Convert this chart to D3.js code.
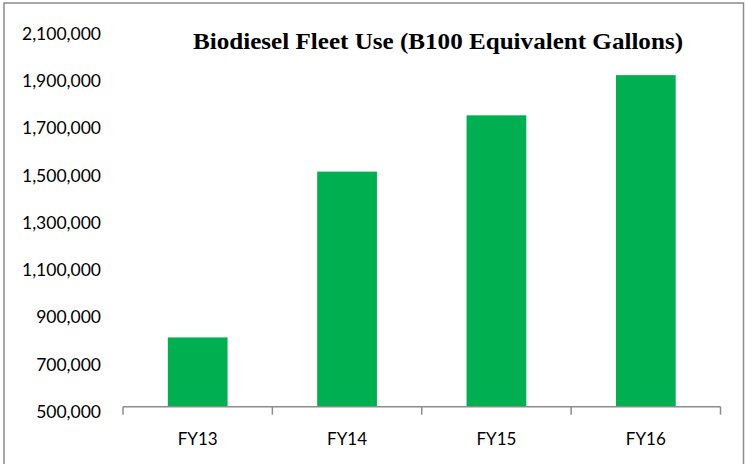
<!DOCTYPE html>
<html>
<head>
<meta charset="utf-8">
<script src="https://cdn.jsdelivr.net/npm/d3@7"></script>
<style>
  body { margin: 0; background: #fff; }
  svg { display: block; }
</style>
</head>
<body>
<svg id="chart"></svg>
<script>
const categories = ['FY13', 'FY14', 'FY15', 'FY16'];
const gallons = [793000, 1494000, 1732000, 1902000];
const yTickValues = [500000, 700000, 900000, 1100000, 1300000, 1500000, 1700000, 1900000, 2100000];
const chartTitle = 'Biodiesel Fleet Use (B100 Equivalent  Gallons)';

const width = 746, height = 464;
const margin = {left: 123, right: 25.5, top: 28.3, bottom: 57.3};

const svg = d3.select('#chart')
  .attr('width', width)
  .attr('height', height);

// outer frame (bottom edge falls just outside the picture)
svg.append('path')
  .attr('d', 'M4,464V3H743.5V464')
  .attr('fill', 'none')
  .attr('stroke', '#8c8c8c')
  .attr('stroke-width', 1.5);

const innerWidth = width - margin.left - margin.right;
const innerHeight = height - margin.top - margin.bottom;

const viewPort = svg.append('g')
  .attr('transform', `translate(${margin.left}, ${margin.top})`);

const xScale = d3.scaleBand()
  .domain(categories)
  .range([0, innerWidth])
  .paddingInner(0.6)
  .paddingOuter(0.3);

const yScale = d3.scaleLinear()
  .domain([500000, 2100000])
  .range([innerHeight, 0]);

// y labels only, no axis line
const yAxis = d3.axisLeft(yScale)
  .tickValues(yTickValues)
  .tickSize(0)
  .tickPadding(22)
  .tickFormat(d3.format(','));

const yAxisG = viewPort.append('g').call(yAxis);
yAxisG.select('.domain').remove();
yAxisG.selectAll('text')
  .attr('dy', '0.62em')
  .attr('font-family', 'Lato, sans-serif')
  .attr('font-size', 17.5)
  .attr('fill', '#000');

viewPort.selectAll('rect.bar')
  .data(categories).enter()
  .append('rect')
  .attr('class', 'bar')
  .attr('x', d => xScale(d))
  .attr('width', xScale.bandwidth())
  .attr('y', (d, i) => yScale(gallons[i]))
  .attr('height', (d, i) => innerHeight - yScale(gallons[i]))
  .attr('fill', '#00b050');

// x axis: labels centred, ticks on the category boundaries
const xAxis = d3.axisBottom(xScale)
  .tickSize(0)
  .tickPadding(26);

const xAxisG = viewPort.append('g')
  .attr('transform', `translate(0, ${innerHeight})`)
  .call(xAxis);
xAxisG.select('.domain').remove();
xAxisG.selectAll('text')
  .attr('font-family', 'Lato, sans-serif')
  .attr('font-size', 17)
  .attr('fill', '#000');

xAxisG.append('line')
  .attr('x1', 0).attr('x2', innerWidth)
  .attr('stroke', '#8c8c8c').attr('stroke-width', 1.5);

const step = xScale.step();
xAxisG.selectAll('line.tick-mark')
  .data(d3.range(categories.length + 1)).enter()
  .append('line')
  .attr('class', 'tick-mark')
  .attr('x1', i => i * step).attr('x2', i => i * step)
  .attr('y1', 0).attr('y2', 8)
  .attr('stroke', '#8c8c8c').attr('stroke-width', 1.5);

svg.append('text')
  .attr('x', 193).attr('y', 49)
  .attr('textLength', 490)
  .attr('lengthAdjust', 'spacingAndGlyphs')
  .attr('font-family', '"Liberation Serif", serif')
  .attr('font-weight', 'bold')
  .attr('font-size', 24)
  .attr('fill', '#000')
  .text(chartTitle);
</script>
</body>
</html>
